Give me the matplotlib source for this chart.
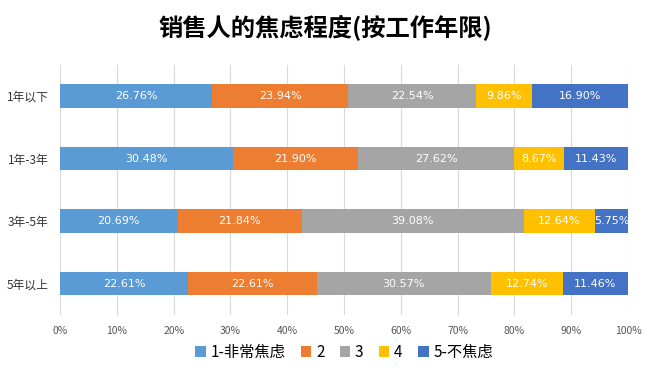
import numpy as np
import matplotlib.pyplot as plt
from matplotlib.ticker import PercentFormatter

plt.rcParams['font.family'] = ['Noto Sans CJK SC', 'DejaVu Sans']

# Data
groups = ['1年以下', '1年-3年', '3年-5年', '5年以上']
series_names = ['1-非常焦虑', '2', '3', '4', '5-不焦虑']
level1 = [26.76, 30.48, 20.69, 22.61]
level2 = [23.94, 21.90, 21.84, 22.61]
level3 = [22.54, 27.62, 39.08, 30.57]
level4 = [9.86, 8.67, 12.64, 12.74]
level5 = [16.90, 11.43, 5.75, 11.46]
colors = ['#5B9BD5', '#ED7D31', '#A5A5A5', '#FFC000', '#4472C4']

fig = plt.figure(figsize=(6.5, 3.7), dpi=100)
ax = fig.add_axes([0.0923, 0.149, 0.874, 0.676])

y = np.arange(len(groups))
left = np.zeros(len(groups))
for name, vals, c in zip(series_names, [level1, level2, level3, level4, level5], colors):
    vals = np.array(vals)
    bars = ax.barh(y, vals, left=left, height=0.38, color=c, label=name, zorder=2)
    ax.bar_label(bars, labels=[f'{v:.2f}%' for v in vals], label_type='center',
                 color='white', fontsize=8, family='DejaVu Sans')
    left += vals

ax.set_xlim(0, 100)
ax.set_ylim(3.5, -0.5)
ax.set_yticks(y)
ax.set_yticklabels(groups, fontsize=8.5)
ax.set_xticks(np.arange(0, 101, 10))
ax.xaxis.set_major_formatter(PercentFormatter(decimals=0))
ax.tick_params(axis='x', labelsize=7.5, colors='#555555', length=0, pad=8)
ax.tick_params(axis='y', length=0, pad=8, colors='#333333')
ax.grid(axis='x', color='#d9d9d9', linewidth=0.8, zorder=0)
for s in ax.spines.values():
    s.set_visible(False)

fig.suptitle('销售人的焦虑程度(按工作年限)', x=0.5, y=0.96, fontsize=17.5, fontweight='bold')
ax.legend(loc='center', bbox_to_anchor=(0.5, -0.15), ncol=5, frameon=False,
          fontsize=11, handlelength=0.7, handleheight=0.7, handletextpad=0.3,
          columnspacing=1.0)

fig.savefig('out.png', dpi=100)
